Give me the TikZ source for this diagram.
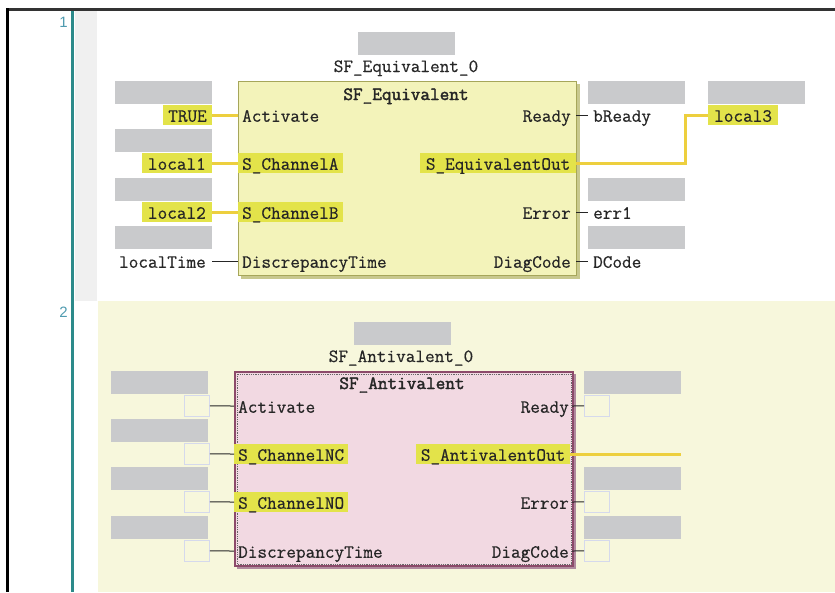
\documentclass[tikz,border=0pt]{standalone}
\usepackage{fontspec}
\setsansfont{Liberation Sans}
\newfontfamily\monofam{Latin Modern Mono}[FakeBold=0.5]
\newfontfamily\monottl{Latin Modern Mono}[FakeBold=2]
\definecolor{phgray}{HTML}{C9CACC}
\definecolor{hly}{HTML}{E3E34A}
\definecolor{ylc}{HTML}{EDCF3E}
\definecolor{boxfillA}{HTML}{F3F3BA}
\definecolor{boxdrawA}{HTML}{A6A65A}
\definecolor{shadowA}{HTML}{C8C88E}
\definecolor{boxfillB}{HTML}{F2D9E2}
\definecolor{boxdrawB}{HTML}{8C4A6A}
\definecolor{shadowB}{HTML}{B08A9E}
\definecolor{netbg}{HTML}{F7F7DC}
\definecolor{stripc}{HTML}{F0F0F0}
\definecolor{tealc}{HTML}{2C8A8A}
\definecolor{numc}{HTML}{4F9BB0}
\definecolor{ebc}{HTML}{D5D9EC}
\definecolor{txtc}{HTML}{262626}
\begin{document}
\begin{tikzpicture}[x=1pt,y=-1pt,
  txt/.style={font=\fontsize{18.7}{20}\selectfont\monofam, text=txtc, text height=13.5pt, text depth=0pt, inner ysep=3.25pt, inner xsep=5pt},
  pin/.style={txt, inner xsep=4pt},
  hl/.style={fill=hly},
  ttl/.style={font=\fontsize{18.7}{20}\selectfont\monottl, text=txtc, inner sep=0pt, anchor=base},
  inst/.style={font=\fontsize{18.7}{20}\selectfont\monofam, text=txtc, inner sep=0pt, anchor=base},
  ph/.style={fill=phgray, minimum width=97pt, minimum height=23pt, inner sep=0pt, anchor=north west},
  eb/.style={draw=ebc, line width=0.9pt, minimum width=25pt, minimum height=21pt, inner sep=0pt, anchor=north west},
  yline/.style={draw=ylc, line width=3pt},
  bline/.style={draw=txtc, line width=1pt},
  lnum/.style={font=\fontsize{15}{16}\selectfont\sffamily, text=numc, inner sep=0pt, anchor=east}
]
\useasboundingbox (0,0) rectangle (835,592);
\fill[white] (0,0) rectangle (835,592);
% backgrounds
\fill[stripc] (75,11) rectangle (97,301);
\fill[netbg] (98,301) rectangle (835,592);
\draw[line width=3pt, draw=black!80] (6,9.5) -- (835,9.5);
\draw[line width=2.5pt, draw=black] (7.5,8) -- (7.5,592);
\draw[line width=3pt, draw=tealc] (72.5,11) -- (72.5,592);
\node[lnum] (n1) at (68,22) {1};
\node[lnum] (n2) at (68,312) {2};

% ===== Network 1 =====
\node[ph] (iph1) at (358,32) {};
\node[inst] (iname1) at (406,72) {SF\_Equivalent\_0};
\fill[shadowA] (241,84) rectangle (580,279);
\node[draw=boxdrawA, fill=boxfillA, line width=1.2pt, minimum width=338pt, minimum height=194pt, anchor=north west, inner sep=0pt] (fbA) at (238,81) {};
\node[ttl] (tA) at (406,100) {SF\_Equivalent};

\node[ph] (lpA1) at (115,81) {};
\node[ph] (lpA2) at (115,129) {};
\node[ph] (lpA3) at (115,178) {};
\node[ph] (lpA4) at (115,226) {};
\node[ph] (rpA1) at (588,81) {};
\node[ph] (rpA3) at (588,178) {};
\node[ph] (rpA4) at (588,226) {};
\node[ph] (opA) at (708,81) {};

\node[txt, hl, anchor=east] (vA1) at (212,115) {TRUE};
\node[txt, hl, anchor=east, inner xsep=6pt] (vA2) at (212,163) {local1};
\node[txt, hl, anchor=east, inner xsep=6pt] (vA3) at (212,212) {local2};
\node[txt, anchor=east, inner xsep=6pt] (vA4) at (212,261) {localTime};

\node[pin, anchor=west] (pA1) at (238,115) {Activate};
\node[pin, hl, anchor=west] (pA2) at (238,163) {S\_ChannelA};
\node[pin, hl, anchor=west] (pA3) at (238,212) {S\_ChannelB};
\node[pin, anchor=west] (pA4) at (238,261) {DiscrepancyTime};

\node[pin, anchor=east, inner xsep=5pt] (qA1) at (576,115) {Ready};
\node[pin, hl, anchor=east, inner xsep=5.5pt] (qA2) at (576,163) {S\_EquivalentOut};
\node[pin, anchor=east, inner xsep=5pt] (qA3) at (576,212) {Error};
\node[pin, anchor=east, inner xsep=5pt] (qA4) at (576,261) {DiagCode};

\node[txt, anchor=west] (wA1) at (588,115) {bReady};
\node[txt, anchor=west] (wA3) at (588,212) {err1};
\node[txt, anchor=west] (wA4) at (588,261) {DCode};
\node[txt, hl, anchor=west, inner xsep=6pt] (oA) at (708,115) {local3};

\draw[yline] (vA1.east) -- (pA1.west);
\draw[yline] (vA2.east) -- (pA2.west);
\draw[yline] (vA3.east) -- (pA3.west);
\draw[bline] (vA4.east) -- (pA4.west);
\draw[bline] (qA1.east) -- (wA1.west);
\draw[bline] (qA3.east) -- (wA3.west);
\draw[bline] (qA4.east) -- (wA4.west);
\coordinate (bendA) at (685,163);
\draw[yline] (qA2.east) -- (bendA) |- (oA.west);

% ===== Network 2 =====
\node[ph] (iph2) at (354,322) {};
\node[inst] (iname2) at (401,362) {SF\_Antivalent\_0};
\fill[shadowB] (237,374) rectangle (576,569);
\node[draw=boxdrawB, fill=boxfillB, line width=2pt, minimum width=338pt, minimum height=194pt, anchor=north west, inner sep=0pt] (fbB) at (234,371) {};
\draw[densely dotted, draw=black!60, line width=0.8pt] ([shift={(3,3)}]fbB.north west) rectangle ([shift={(-3,-3)}]fbB.south east);
\node[ttl] (tB) at (402,389) {SF\_Antivalent};

\node[ph] (lpB1) at (111,371) {};
\node[ph] (lpB2) at (111,419) {};
\node[ph] (lpB3) at (111,467) {};
\node[ph] (lpB4) at (111,516) {};
\node[ph] (rpB1) at (584,371) {};
\node[ph] (rpB3) at (584,467) {};
\node[ph] (rpB4) at (584,516) {};

\node[eb] (eB1) at (184,395) {};
\node[eb] (eB2) at (184,443) {};
\node[eb] (eB3) at (184,491) {};
\node[eb] (eB4) at (184,540) {};
\node[eb] (fB1) at (584,395) {};
\node[eb] (fB3) at (584,491) {};
\node[eb] (fB4) at (584,540) {};

\node[pin, anchor=west] (pB1) at (234,406) {Activate};
\node[pin, hl, anchor=west] (pB2) at (234,454) {S\_ChannelNC};
\node[pin, hl, anchor=west] (pB3) at (234,502) {S\_ChannelNO};
\node[pin, anchor=west] (pB4) at (234,551) {DiscrepancyTime};

\node[pin, anchor=east, inner xsep=3pt] (qB1) at (572,406) {Ready};
\node[pin, hl, anchor=east, inner xsep=4.5pt] (qB2) at (570,454) {S\_AntivalentOut};
\node[pin, anchor=east, inner xsep=3pt] (qB3) at (572,502) {Error};
\node[pin, anchor=east, inner xsep=3pt] (qB4) at (572,551) {DiagCode};

\draw[bline] (eB1.east) -- (pB1.west);
\draw[bline] (eB2.east) -- (pB2.west);
\draw[bline] (eB3.east) -- (pB3.west);
\draw[bline] (eB4.east) -- (pB4.west);
\draw[bline] (qB1.east) -- (fB1.west);
\draw[bline] (qB3.east) -- (fB3.west);
\draw[bline] (qB4.east) -- (fB4.west);
\coordinate (endB) at (681,454);
\draw[yline] (qB2.east) -- (endB);
\end{tikzpicture}
\end{document}
